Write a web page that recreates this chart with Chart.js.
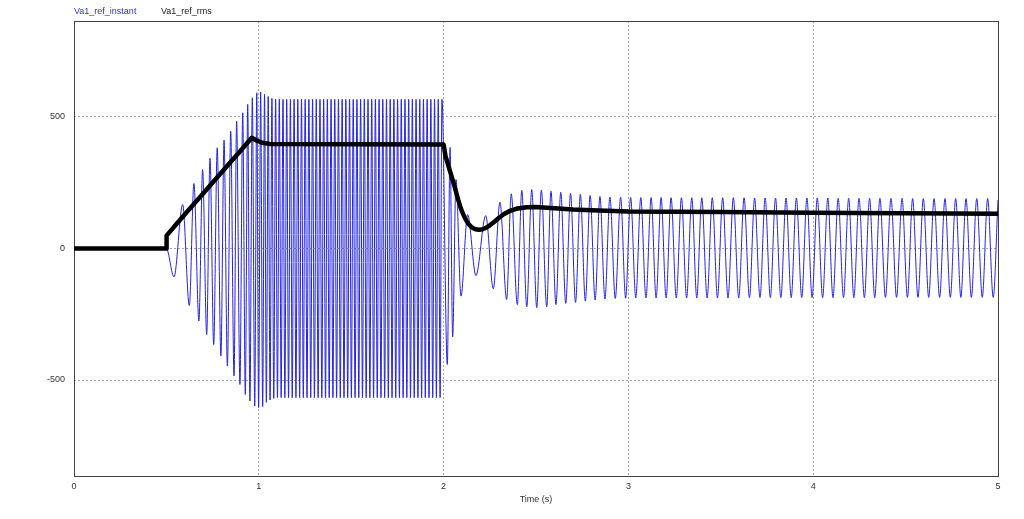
<!DOCTYPE html>
<html><head><meta charset="utf-8">
<script src="https://cdn.jsdelivr.net/npm/chart.js@4.4.0/dist/chart.umd.min.js"></script>
<style>
html,body{margin:0;padding:0;background:#fff;}
#wrap{position:relative;width:1024px;height:519px;overflow:hidden;}
canvas{position:absolute;left:0;top:0;}
.leg{position:absolute;top:6px;line-height:11px;font-size:9px;font-family:"Liberation Sans",Arial,sans-serif;white-space:nowrap;}
</style></head><body>
<div id="wrap">
<canvas id="c" width="1024" height="519"></canvas>
<div class="leg" style="left:74px;color:#3030d0">Va1_ref_instant</div>
<div class="leg" style="left:161px;color:#1a1a1a">Va1_ref_rms</div>
</div>
<script>
const xTicks = [0, 1, 2, 3, 4, 5];
const yTicks = [-500, 0, 500];

// Va1_ref_instant : extremes (peaks / troughs)
const rampT = [0,0.5,0.541,0.588,0.624,0.649,0.676,0.696,0.718,0.736,
  0.756,0.775,0.795,0.812,0.830,0.848,0.866,0.880,0.898,0.913,
  0.927,0.940,0.952,0.965,0.978,0.989,0.999,1.010,1.021];
const rampV = [0,0,-108,167,-217,247,-276,300,-327,343,
  -365,383,-409,412,-447,446,-485,484,-517,516,
  -555,548,-580,573,-599,592,-605,595,-601];

const steadyT = [1.031,1.041,1.051,1.061,1.071,1.081,1.091,
  1.101,1.111,1.121,1.131,1.141,1.151,1.161,1.171,1.181,1.191,
  1.201,1.211,1.221,1.231,1.241,1.251,1.261,1.271,1.281,1.291,
  1.301,1.311,1.321,1.331,1.341,1.351,1.361,1.371,1.381,1.391,
  1.401,1.411,1.421,1.431,1.441,1.451,1.461,1.471,1.481,1.491,
  1.501,1.511,1.521,1.531,1.541,1.551,1.561,1.571,1.581,1.591,
  1.601,1.611,1.621,1.631,1.641,1.651,1.661,1.671,1.681,1.691,
  1.701,1.711,1.721,1.731,1.741,1.751,1.761,1.771,1.781,1.791,
  1.801,1.811,1.821,1.831,1.841,1.851,1.861,1.871,1.881,1.891,
  1.901,1.911,1.921,1.931,1.941,1.951,1.961,1.971,1.981,1.991];
const steadyV = [586,-585,578,-576,571,-570,568,
  -567,567,-567,567,-567,567,-567,567,-567,567,
  -567,567,-567,567,-567,567,-567,567,-567,567,
  -567,567,-567,567,-567,567,-567,567,-567,567,
  -567,567,-567,567,-567,567,-567,567,-567,567,
  -567,567,-567,567,-567,567,-567,567,-567,567,
  -567,567,-567,567,-567,567,-567,567,-567,567,
  -567,567,-567,567,-567,567,-567,567,-567,567,
  -567,567,-567,567,-567,567,-567,567,-567,567,
  -567,567,-567,567,-567,567,-567,567,-567,567];

const tailT = [2.020,2.035,2.049,2.067,2.094,2.130,2.175,2.228,2.269,2.305,
  2.341,2.366,2.399,2.423,2.450,2.477,2.504,2.529,2.558,2.581,
  2.608,2.634,2.661,2.687,2.714,2.740,2.767,2.793,2.820,2.846,
  2.873,2.900,2.929,2.958,2.985,3.012,3.040,3.067,3.095,3.123,
  3.150,3.177,3.204,3.231,3.259,3.287,3.315,3.343,3.370,3.397,
  3.426,3.454,3.482,3.510,3.539,3.568,3.597,3.626,3.655,3.683,
  3.712,3.740,3.768,3.796,3.825,3.853,3.881,3.909,3.938,3.966,
  3.994,4.022,4.051,4.079,4.107,4.135,4.164,4.192,4.220,4.248,
  4.277,4.305,4.333,4.361,4.391,4.421,4.451,4.481,4.510,4.538,
  4.567,4.596,4.625,4.654,4.684,4.713,4.742,4.771,4.799,4.827,
  4.856,4.885,4.915,4.944,4.974,5.000];
const tailV = [-441,384,-336,262,-181,129,-103,125,-153,176,
  -194,208,-213,222,-222,224,-225,222,-222,218,
  -213,214,-209,210,-205,206,-200,202,-196,198,
  -192,196,-190,195,-189,194,-188,194,-188,194,
  -188,194,-188,193,-188,193,-188,193,-188,193,
  -188,193,-188,193,-188,193,-188,193,-187,192,
  -187,192,-187,192,-187,192,-187,192,-187,192,
  -187,192,-187,192,-187,191,-187,191,-187,191,
  -187,191,-187,191,-186,191,-186,191,-186,190,
  -186,190,-186,190,-186,190,-186,190,-186,190,
  -186,190,-186,190,-186,185];

// Va1_ref_rms
const rmsT = [0,0.5,0.501,0.55,0.6,0.7,0.8,0.9,0.962,0.99,1.02,1.06,1.5,2.0,
  2.005,2.01,2.02,2.03,2.04,2.05,2.06,2.07,2.08,2.09,2.1,2.11,2.12,2.13,2.14,2.15,2.16,
  2.175,2.19,2.205,2.22,2.235,2.25,2.275,2.3,2.325,2.35,2.375,2.4,2.45,2.5,
  2.6,2.7,2.8,3.0,3.5,4.0,4.5,5.0];
const rmsV = [0,0,49,89,130,210,291,371,421,410,402,397,396,395,
  375,352,328,305,282,258,234,208,183,160,140,124,110,98,89,82,77,
  73,71,72,76,81,88,102,117,130,140,147,152,157,158,
  153,148,145,141,139,136,134,132];

const instT = rampT.concat(steadyT, tailT);
const instV = rampV.concat(steadyV, tailV);
const instPts = instT.map((t, i) => ({x: t, y: instV[i]}));
const rmsPts = rmsT.map((t, i) => ({x: t, y: rmsV[i]}));

const FONT = {size: 9, family: '"Liberation Sans", Arial, sans-serif'};
const GRID = '#a8a8a8';

const framePlugin = {
  id: 'frame',
  beforeDatasetsDraw(chart) {
    const a = chart.chartArea, g = chart.ctx;
    g.save();
    g.strokeStyle = '#404040';
    g.lineWidth = 1;
    g.strokeRect(Math.round(a.left) + 0.5, Math.round(a.top) + 0.5,
      Math.round(a.right - a.left), Math.round(a.bottom - a.top));
    g.restore();
  }
};

new Chart(document.getElementById('c'), {
  type: 'line',
  data: {
    datasets: [
      {label: 'Va1_ref_rms', data: rmsPts, borderColor: '#000', borderWidth: 4.5,
       pointRadius: 0, tension: 0, borderJoinStyle: 'round', borderCapStyle: 'round', order: 0},
      {label: 'Va1_ref_instant', data: instPts, borderColor: 'rgb(35,35,225)', borderWidth: 1,
       pointRadius: 0, cubicInterpolationMode: 'monotone', order: 1}
    ]
  },
  options: {
    responsive: false,
    animation: false,
    events: [],
    layout: {padding: {left: 0, top: 21, right: 26, bottom: 0}},
    plugins: {legend: {display: false}, tooltip: {enabled: false}},
    scales: {
      x: {
        type: 'linear', min: 0, max: 5,
        afterBuildTicks: s => { s.ticks = xTicks.map(v => ({value: v})); },
        afterFit: s => { s.height = 43; },
        grid: {color: GRID, lineWidth: 1, drawTicks: false},
        border: {display: false, dash: [2, 2]},
        ticks: {padding: 5, color: '#333', font: FONT, maxRotation: 0, autoSkip: false,
                callback: v => String(v)},
        title: {display: true, text: 'Time (s)', color: '#333', font: FONT,
                padding: {top: 0, bottom: 14}}
      },
      y: {
        min: -865, max: 865,
        afterBuildTicks: s => { s.ticks = yTicks.map(v => ({value: v})); },
        afterFit: s => { s.width = 74; },
        grid: {color: GRID, lineWidth: 1, drawTicks: false},
        border: {display: false, dash: [2, 2]},
        ticks: {padding: 9, color: '#333', font: FONT, callback: v => String(v)}
      }
    }
  },
  plugins: [framePlugin]
});
</script>
</body></html>
